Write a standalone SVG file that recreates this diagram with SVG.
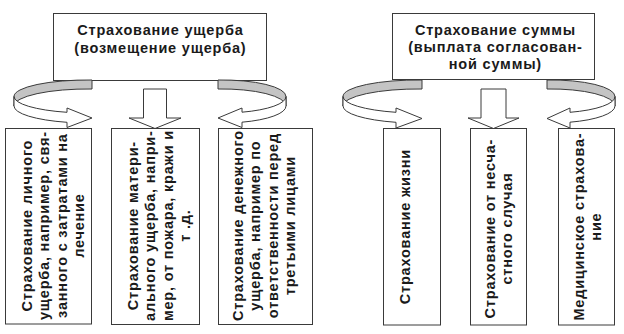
<svg xmlns="http://www.w3.org/2000/svg" width="624" height="334" viewBox="0 0 624 334">
<style>
.box{fill:#fff;stroke:#3a3a3a;stroke-width:1}
.t{font-family:"Liberation Sans",Arial,sans-serif;font-weight:bold;font-size:14.5px;letter-spacing:0.8px;fill:#1a1a1a;text-anchor:middle}
.gray{fill:#c4c4c4;stroke:#3a3a3a;stroke-width:1;stroke-linejoin:round}
.white{fill:#fff;stroke:#3a3a3a;stroke-width:1;stroke-linejoin:miter}
</style>
<rect width="624" height="334" fill="#fff"/>
<g id="top-left">
<rect class="box" x="53.5" y="13.5" width="213" height="67"/>
<text class="t" x="160.4" y="35">Страхование ущерба</text>
<text class="t" x="160.4" y="52.5">(возмещение ущерба)</text>
</g>
<g id="top-right">
<rect class="box" x="392.5" y="13.5" width="202" height="66"/>
<text class="t" x="495.4" y="35">Страхование суммы</text>
<text class="t" x="495.4" y="52">(выплата согласован-</text>
<text class="t" x="495.4" y="69">ной суммы)</text>
</g>
<g id="connectors">
<path class="gray" d="M92,80 A74,16.5 0 0 0 14,96.5 L14,106 A74,17 0 0 1 92,89 Z"/>
<path class="white" d="M14,96.5 A74,16.5 0 0 0 67,112.3 L67,108 L92,118 L67,127.5 L67,122.3 A74,17 0 0 1 14,106 Z"/>
<path class="gray" d="M218,80 A64,16.5 0 0 1 286,96.5 L286,106 A64,17 0 0 0 218,89 Z"/>
<path class="white" d="M286,96.5 A64,16.5 0 0 1 242,112.2 L242,108 L218,118 L242,127.5 L242,122.2 A64,17 0 0 0 286,106 Z"/>
<polygon class="white" points="143.5,89 166.5,89 166.5,118 181,118 155,128.5 129,118 143.5,118"/>
<path class="gray" d="M422,80 A75,16.5 0 0 0 343,96.5 L343,106 A75,17 0 0 1 422,89 Z"/>
<path class="white" d="M343,96.5 A75,16.5 0 0 0 396,112.3 L396,108 L422,118.5 L396,128 L396,122.3 A75,17 0 0 1 343,106 Z"/>
<path class="gray" d="M547,80 A64,16.5 0 0 1 615,96.5 L615,106 A64,17 0 0 0 547,89 Z"/>
<path class="white" d="M615,96.5 A64,16.5 0 0 1 570,112.3 L570,108 L547,118.5 L570,128 L570,122.2 A64,17 0 0 0 615,106 Z"/>
<polygon class="white" points="481,89 506,89 506,118 519,118 493.5,128.5 468,118 481,118"/>
</g>
<g id="box-l1">
<rect class="box" x="5.5" y="128.5" width="86" height="195.5"/>
<g transform="rotate(-90)">
<text class="t" x="-225.6" y="31.5">Страхование личного</text>
<text class="t" x="-225.6" y="49">ущерба, например, свя-</text>
<text class="t" x="-225.6" y="66.5">занного с затратами на</text>
<text class="t" x="-225.6" y="84">лечение</text>
</g>
</g>
<g id="box-l2">
<rect class="box" x="111.5" y="128.5" width="88" height="196"/>
<g transform="rotate(-90)">
<text class="t" x="-225.6" y="137.5">Страхование матери-</text>
<text class="t" x="-225.6" y="155">ального ущерба, напри-</text>
<text class="t" x="-225.6" y="172.5">мер, от пожара, кражи и</text>
<text class="t" x="-225.6" y="190">т .д.</text>
</g>
</g>
<g id="box-l3">
<rect class="box" x="218.5" y="128.5" width="94" height="196"/>
<g transform="rotate(-90)">
<text class="t" x="-225.6" y="242.5">Страхование денежного</text>
<text class="t" x="-225.6" y="260">ущерба, например по</text>
<text class="t" x="-225.6" y="277.5">ответственности перед</text>
<text class="t" x="-225.6" y="295">третьими лицами</text>
</g>
</g>
<g id="box-r1">
<rect class="box" x="383.5" y="128.5" width="57" height="196.5"/>
<g transform="rotate(-90)">
<text class="t" x="-226.6" y="410">Страхование жизни</text>
</g>
</g>
<g id="box-r2">
<rect class="box" x="470.5" y="128.5" width="56" height="196.5"/>
<g transform="rotate(-90)">
<text class="t" x="-228.6" y="494.5">Страхование от несча-</text>
<text class="t" x="-228.6" y="512">стного случая</text>
</g>
</g>
<g id="box-r3">
<rect class="box" x="558.5" y="128.5" width="56" height="196.5"/>
<g transform="rotate(-90)">
<text class="t" x="-226.6" y="583.5">Медицинское страхова-</text>
<text class="t" x="-226.6" y="601">ние</text>
</g>
</g>
</svg>
